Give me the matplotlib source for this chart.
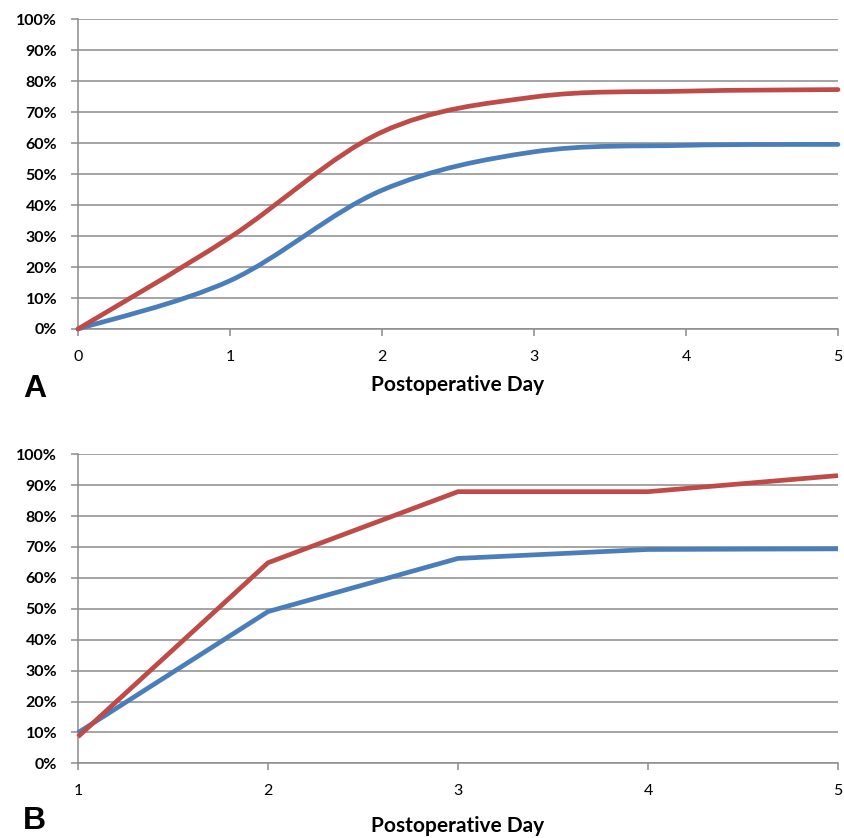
import numpy as np
import matplotlib
matplotlib.use("Agg")
import matplotlib.pyplot as plt
from matplotlib.path import Path
from matplotlib.patches import PathPatch

# ---- data ----
days_a = [0, 1, 2, 3, 4, 5]
blue_a = [0.0, 15.6, 44.8, 57.2, 59.3, 59.6]
red_a = [0.0, 29.6, 63.6, 74.9, 76.8, 77.3]

days_b = [1, 2, 3, 4, 5]
blue_b = [9.9, 49.1, 66.3, 69.2, 69.4]
red_b = [8.6, 64.9, 87.9, 87.9, 93.1]

y_ticks = [0, 10, 20, 30, 40, 50, 60, 70, 80, 90, 100]
y_ticklabels = [f"{v}%" for v in y_ticks]
xlabel = "Postoperative Day"

BLUE = "#4A7EBB"
RED = "#BE4B48"
GRID = "#8C8C8C"
LW = 3.4


def smooth_path(x, y):
    """Excel-style smoothed line (cubic Bezier through the data points)."""
    x = np.asarray(x, float)
    y = np.asarray(y, float)
    n = len(x)
    verts = [(x[0], y[0])]
    codes = [Path.MOVETO]
    for i in range(n - 1):
        p0 = i - 1 if i > 0 else i
        p3 = i + 2 if i + 2 < n else i + 1
        c1 = (x[i] + (x[i + 1] - x[p0]) / 6, y[i] + (y[i + 1] - y[p0]) / 6)
        c2 = (x[i + 1] - (x[p3] - x[i]) / 6, y[i + 1] - (y[p3] - y[i]) / 6)
        verts += [c1, c2, (x[i + 1], y[i + 1])]
        codes += [Path.CURVE4] * 3
    return Path(verts, codes)


def style_axes(ax, xticks, labelpad):
    ax.set_ylim(0, 100)
    ax.set_xlim(xticks[0], xticks[-1])
    ax.set_yticks(y_ticks)
    ax.set_yticklabels(y_ticklabels, fontfamily="Lato", fontweight="bold", fontsize=11.5)
    ax.set_xticks(xticks)
    ax.set_xticklabels([str(t) for t in xticks], fontfamily="Lato", fontsize=11.5)
    ax.grid(axis="y", color=GRID, linewidth=1.1)
    ax.set_axisbelow(True)
    for s in ("top", "right"):
        ax.spines[s].set_visible(False)
    for s in ("left", "bottom"):
        ax.spines[s].set_color(GRID)
        ax.spines[s].set_linewidth(1.1)
    ax.tick_params(axis="both", direction="out", length=5, width=1.1, color=GRID,
                   labelcolor="black")
    ax.tick_params(axis="y", pad=10)
    ax.tick_params(axis="x", pad=10)
    ax.set_xlabel(xlabel, fontfamily="Lato", fontweight="bold", fontsize=15,
                  labelpad=labelpad)


fig = plt.figure(figsize=(8.44, 8.38), dpi=100)
fig.patch.set_facecolor("white")

ax1 = fig.add_axes([0.0924, 0.6074, 0.9005, 0.3696])
style_axes(ax1, days_a, 8)
for yy, col in ((blue_a, BLUE), (red_a, RED)):
    ax1.add_patch(PathPatch(smooth_path(days_a, yy), fill=False, edgecolor=col,
                            linewidth=LW, capstyle="round", joinstyle="round",
                            clip_on=False, zorder=3))

ax2 = fig.add_axes([0.0924, 0.0891, 0.9005, 0.3688])
style_axes(ax2, days_b, 13)
ax2.plot(days_b, blue_b, color=BLUE, linewidth=LW, solid_capstyle="butt",
         solid_joinstyle="miter", clip_on=False, zorder=3)
ax2.plot(days_b, red_b, color=RED, linewidth=LW, solid_capstyle="butt",
         solid_joinstyle="miter", clip_on=False, zorder=3)

fig.text(0.027, 0.536, "A", fontfamily="Liberation Sans", fontweight="bold",
         fontsize=23, va="center", ha="left")
fig.text(0.027, 0.020, "B", fontfamily="Liberation Sans", fontweight="bold",
         fontsize=23, va="center", ha="left")

fig.savefig("out.png", dpi=100, facecolor="white")
